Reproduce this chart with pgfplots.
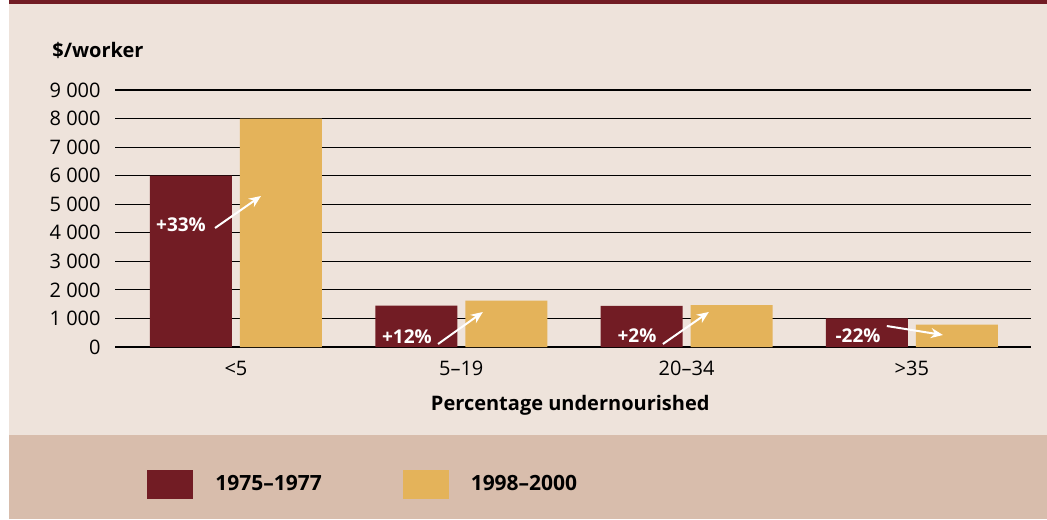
\documentclass[border=0pt]{standalone}
\usepackage{fontspec}
\setmainfont{Open Sans}
\usepackage{pgfplots}
\pgfplotsset{compat=1.18}
\usetikzlibrary{arrows.meta}
\definecolor{dred}{HTML}{721C24}
\definecolor{gold}{HTML}{E4B35A}
\definecolor{panel}{HTML}{EEE3DB}
\definecolor{band}{HTML}{D8BDAC}
\begin{document}
\begin{tikzpicture}[x=1pt,y=1pt]
\useasboundingbox (0,0) rectangle (523.5,259.5);
\fill[white] (0,0) rectangle (523.5,259.5);
\fill[panel] (4.5,0) rectangle (523.5,259.5);
\fill[band] (4.5,0) rectangle (523.5,42);
\fill[dred] (4.5,257.5) rectangle (523.5,259.5);
\node[anchor=base west, font=\bfseries\fontsize{10}{12}\selectfont, inner sep=0pt] at (26,230.5) {\$/worker};
\begin{axis}[
  at={(57.5pt,86pt)}, anchor=south west,
  scale only axis, width=458pt, height=128.5pt,
  xmin=-0.537, xmax=3.529, ymin=0, ymax=9000,
  axis line style={draw=none}, major tick length=0pt,
  ymajorgrids, major grid style={black, line width=0.6pt},
  ytick={0,1000,2000,3000,4000,5000,6000,7000,8000,9000},
  yticklabels={0,1 000,2 000,3 000,4 000,5 000,6 000,7 000,8 000,9 000},
  yticklabel style={anchor=east, inner sep=0pt, xshift=-7pt, font=\fontsize{10}{12}\selectfont},
  xtick={0,1,2,3},
  xticklabels={<5,5–19,20–34,>35},
  xticklabel style={anchor=base, inner sep=0pt, yshift=-14pt, font=\fontsize{10}{12}\selectfont},
  xlabel={Percentage undernourished},
  xlabel style={at={(axis description cs:0.497,-0.249)}, anchor=base, inner sep=0pt, font=\bfseries\fontsize{10}{12}\selectfont},
  ybar, bar width=41pt,
  legend columns=2,
  legend image code/.code={\fill[#1, draw=none] (0pt,-7.25pt) rectangle (23pt,7.25pt);},
  legend style={at={(axis description cs:0.0349,-0.535)}, anchor=west, draw=none, fill=none,
    inner sep=0pt, nodes={inner sep=0pt}, font=\bfseries\fontsize{10.5}{12}\selectfont,
    /tikz/every odd column/.style={column sep=11pt},
    /tikz/every even column/.style={column sep=40.5pt}},
  legend cell align=left,
]
\addplot[fill=dred, draw=none, bar shift=-22.5pt] coordinates {(0,6000) (1,1450) (2,1440) (3,1000)};
\addplot[fill=gold, draw=none, bar shift=22.5pt] coordinates {(0,8000) (1,1620) (2,1470) (3,780)};
\legend{1975–1977,1998–2000}
\begin{scope}[every node/.style={text=white, font=\bfseries\fontsize{9.5}{11}\selectfont, inner sep=0pt}]
\node at (axis cs:-0.244,4272) {+33\%};
\node at (axis cs:0.759,350) {+12\%};
\node at (axis cs:1.780,385) {+2\%};
\node at (axis cs:2.761,385) {-22\%};
\end{scope}
\begin{scope}[white, line width=1pt, -{Stealth[length=6pt,width=5pt]}]
\draw (axis cs:-0.093,4167) -- (axis cs:0.111,5288);
\draw (axis cs:0.897,105) -- (axis cs:1.096,1226);
\draw (axis cs:1.895,105) -- (axis cs:2.099,1226);
\draw (axis cs:2.889,735) -- (axis cs:3.138,420);
\end{scope}
\end{axis}
\end{tikzpicture}
\end{document}
